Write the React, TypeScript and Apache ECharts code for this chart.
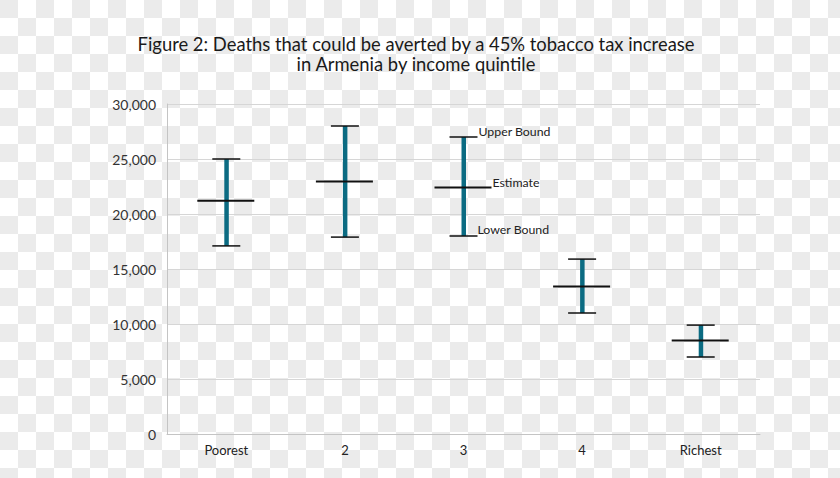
import React, { useEffect, useRef } from "react";
import * as echarts from "echarts";

const categories = ["Poorest", "2", "3", "4", "Richest"];
const lowerBound = [17100, 17900, 18000, 11000, 7000];
const estimate = [21200, 22950, 22400, 13400, 8500];
const upperBound = [25000, 28000, 27000, 15900, 9900];
const yTicks = { min: 0, max: 30000, interval: 5000 };
const annotationIndex = 2;
const annotationTexts = ["Upper Bound", "Estimate", "Lower Bound"];

const FONT = "Lato, 'Open Sans', sans-serif";
const TEAL = "#0b6b82";

export default function App() {
  const ref = useRef<HTMLDivElement>(null);
  useEffect(() => {
    if (!ref.current) return;
    const chart = echarts.init(ref.current, null, { renderer: "svg" });
    const data = categories.map((_, i) => [i, lowerBound[i], estimate[i], upperBound[i]]);
    chart.setOption({
      animation: false,
      backgroundColor: "transparent",
      title: {
        text: "Figure 2: Deaths that could be averted by a 45% tobacco tax increase\nin Armenia by income quintile",
        left: 411,
        top: 29,
        textAlign: "center",
        textStyle: {
          fontFamily: FONT,
          fontSize: 18.4,
          fontWeight: "normal",
          color: "#1a1a1a",
          lineHeight: 20,
        },
      },
      grid: { left: 167, right: 80, top: 104, bottom: 44 },
      xAxis: {
        type: "category",
        data: categories,
        axisTick: { show: false },
        axisLine: { lineStyle: { color: "#c4c4c4", width: 1 } },
        axisLabel: { color: "#222", fontFamily: FONT, fontSize: 13, margin: 9 },
      },
      yAxis: {
        type: "value",
        min: yTicks.min,
        max: yTicks.max,
        interval: yTicks.interval,
        axisLine: { show: true, lineStyle: { color: "#c4c4c4", width: 1 } },
        axisTick: { show: false },
        splitLine: { lineStyle: { color: "#d6d6d6", width: 1 } },
        axisLabel: {
          color: "#333",
          fontFamily: FONT,
          fontSize: 14,
          margin: 11,
          formatter: (v: number) => v.toLocaleString("en-US"),
        },
      },
      series: [
        {
          type: "custom",
          data,
          encode: { x: 0, y: [1, 2, 3] },
          renderItem: (params: any, api: any) => {
            const idx = api.value(0);
            const lo = api.coord([idx, api.value(1)]);
            const es = api.coord([idx, api.value(2)]);
            const hi = api.coord([idx, api.value(3)]);
            const cx = lo[0];
            const children: any[] = [
              {
                type: "rect",
                shape: { x: cx - 2, y: hi[1], width: 4.5, height: lo[1] - hi[1] },
                style: { fill: TEAL },
              },
              {
                type: "line",
                shape: { x1: cx - 14, y1: hi[1], x2: cx + 14, y2: hi[1] },
                style: { stroke: "#111", lineWidth: 1.5 },
              },
              {
                type: "line",
                shape: { x1: cx - 14, y1: lo[1], x2: cx + 14, y2: lo[1] },
                style: { stroke: "#111", lineWidth: 1.5 },
              },
              {
                type: "line",
                shape: { x1: cx - 29, y1: es[1], x2: cx + 28, y2: es[1] },
                style: { stroke: "#111", lineWidth: 2 },
              },
            ];
            if (params.dataIndex === annotationIndex) {
              const ts = { fontFamily: FONT, fontSize: 12.3, fill: "#222", verticalAlign: "middle", align: "left" };
              children.push(
                { type: "text", x: cx + 15, y: hi[1] - 6, style: { ...ts, text: annotationTexts[0] } },
                { type: "text", x: cx + 29, y: es[1] - 5, style: { ...ts, text: annotationTexts[1] } },
                { type: "text", x: cx + 14, y: lo[1] - 7, style: { ...ts, text: annotationTexts[2] } }
              );
            }
            return { type: "group", children };
          },
        },
      ],
    });
    return () => chart.dispose();
  }, []);
  return (
    <div
      ref={ref}
      style={{
        position: "absolute",
        left: 0,
        top: 0,
        width: 840,
        height: 478,
        backgroundColor: "#ffffff",
        backgroundImage:
          "conic-gradient(#ffffff 0 25%, #ebebeb 0 50%, #ffffff 0 75%, #ebebeb 0)",
        backgroundSize: "36px 36px",
        backgroundPosition: "0 0",
      }}
    />
  );
}
